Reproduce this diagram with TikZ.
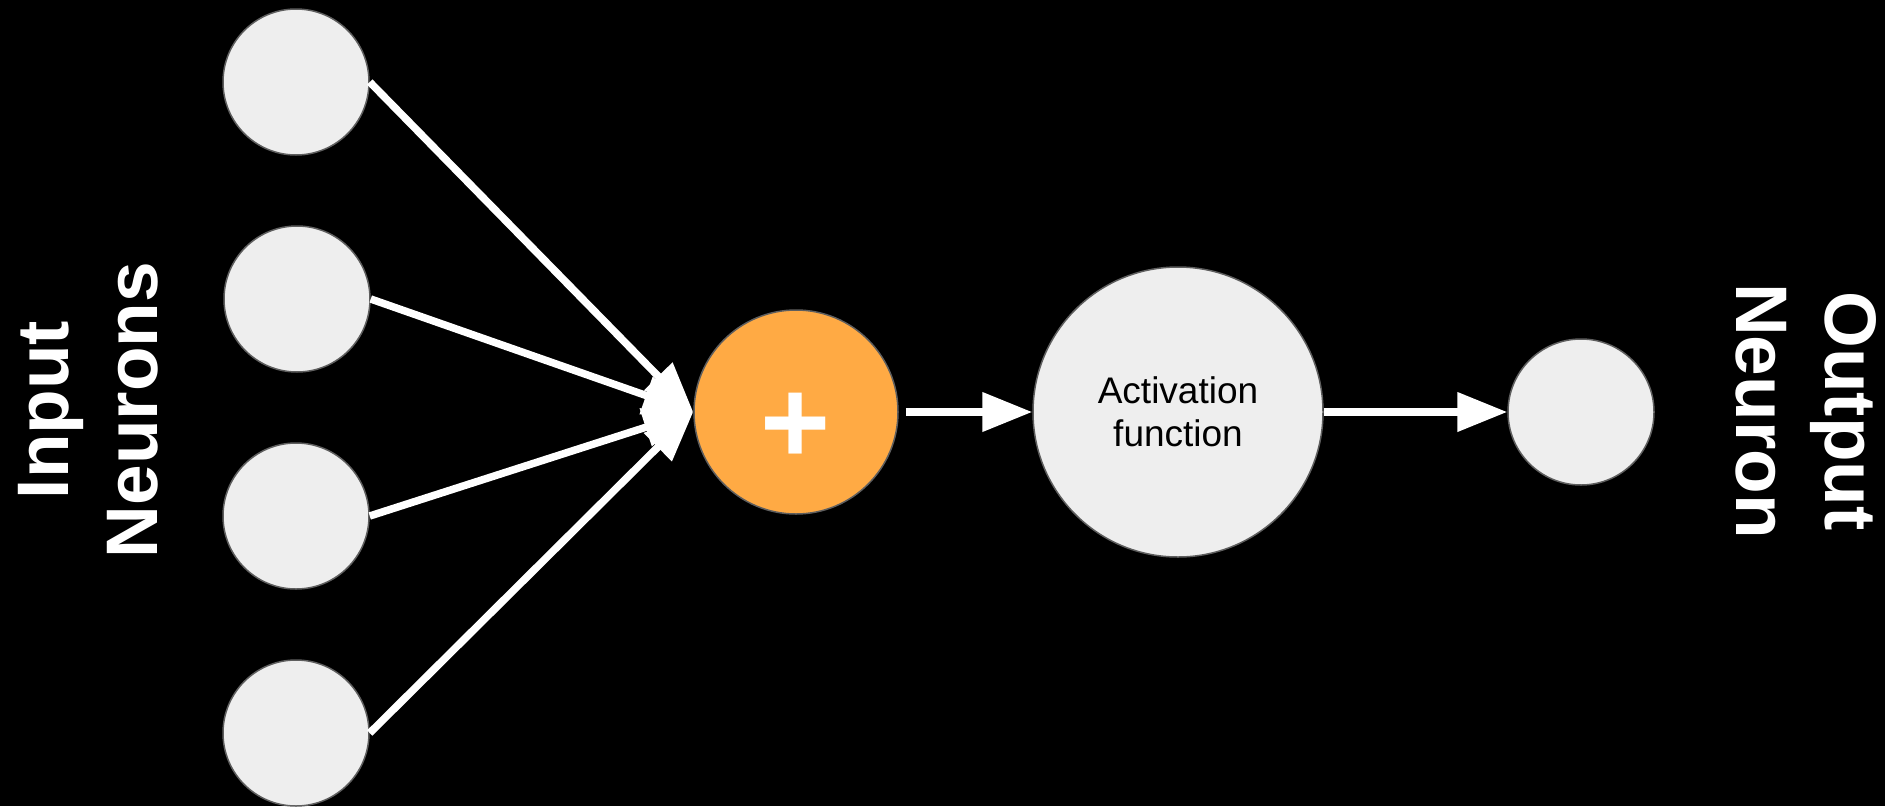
\documentclass[tikz,border=0pt]{standalone}
\usepackage{fontspec}
\setmainfont{Liberation Sans}
\usetikzlibrary{arrows.meta}
\definecolor{nfill}{HTML}{EEEEEE}
\definecolor{nedge}{HTML}{5E5E5E}
\definecolor{orng}{HTML}{FFAA44}
\begin{document}
\begin{tikzpicture}[x=1pt,y=-1pt,
  neuron/.style={circle,draw=nedge,line width=1.5pt,fill=nfill,inner sep=0pt},
  conn/.style={draw=white,line width=7.5pt,-{Triangle[length=50pt,width=38pt]}},
  biglabel/.style={text=white,font=\fontsize{73}{89}\selectfont\bfseries,align=center,inner sep=0pt}]
\fill[black] (0,0) rectangle (1885,806);
\useasboundingbox (0,0) rectangle (1885,806);
\node[neuron,minimum size=146pt] (in1) at (296,82) {};
\node[neuron,minimum size=146pt] (in2) at (297,299) {};
\node[neuron,minimum size=146pt] (in3) at (296,516) {};
\node[neuron,minimum size=146pt] (in4) at (296,733) {};
\node[neuron,fill=orng,minimum size=204pt] (sum) at (796,412) {};
\node[text=white,inner sep=0pt,font=\fontsize{120}{120}\selectfont\bfseries] (plus) at (796,428) {+};
\node[neuron,minimum size=290pt,align=center,font=\fontsize{37}{43}\selectfont] (act) at (1178,412) {Activation\\function};
\node[neuron,minimum size=146pt] (out) at (1581,412) {};
\node[biglabel,rotate=90] (inlab) at (88,410) {Input\\Neurons};
\node[biglabel,rotate=-90] (outlab) at (1806,411) {Output\\Neuron};
\draw[conn] (in1.east) -- (sum.west);
\draw[conn] (in2.east) -- (sum.west);
\draw[conn] (in3.east) -- (sum.west);
\draw[conn] (in4.east) -- (sum.west);
\draw[conn,shorten <=7pt] (sum.east) -- (act.west);
\draw[conn] (act.east) -- (out.west);
\end{tikzpicture}
\end{document}
